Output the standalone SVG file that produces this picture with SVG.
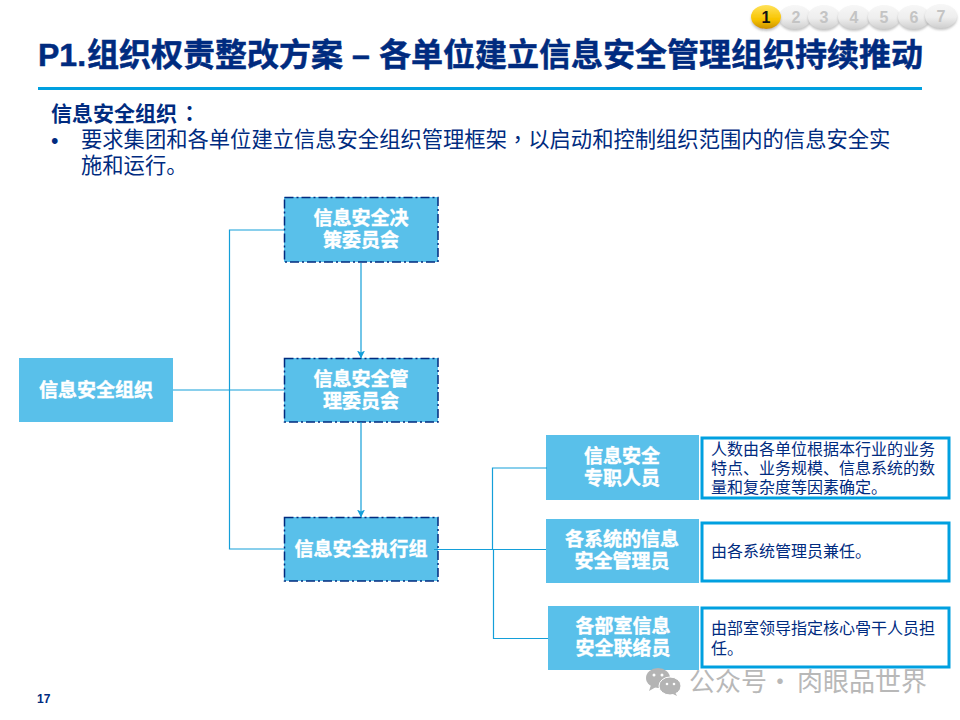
<svg xmlns="http://www.w3.org/2000/svg" width="960" height="720" viewBox="0 0 960 720">
<style>
text{font-family:"Liberation Sans","Noto Sans CJK SC",sans-serif}
.cjk{font-family:"Noto Sans CJK SC","Liberation Sans",sans-serif}
.tc{font-family:"Noto Sans CJK TC",sans-serif}
.title{font-size:32px;font-weight:700;fill:#002b7f;stroke:#002b7f;stroke-width:.5}
.body{font-size:21.300px;fill:#002b7f}
.head{font-size:19px;font-weight:700;fill:#fff;stroke:#fff;stroke-width:.4;text-anchor:middle;font-family:"Noto Sans CJK SC",sans-serif}
.note{font-size:16px;fill:#002b7f;font-family:"Noto Sans CJK SC",sans-serif}
.solid{fill:#59c0ea}
.dash{fill:#59c0ea}
.dashline{fill:none;stroke:#002b7f;stroke-width:1.5;stroke-dasharray:9 3 2 3}
.notebox{fill:#fff;stroke:#00a0e0;stroke-width:3}
.wire{fill:none;stroke:#149fd9;stroke-width:1.2}
.pill{fill:url(#grey);filter:url(#shadow)}
.pilln{font-size:16px;font-weight:700;fill:#c4c4c4;text-anchor:middle}
.mark{font-size:26px;fill:#b8b8b8;font-family:"Noto Sans CJK SC",sans-serif}
</style>
<defs>
<marker id="arrow" markerWidth="9" markerHeight="8" refX="7.5" refY="4" orient="auto" markerUnits="userSpaceOnUse">
<path d="M0 0L8 4L0 8L2 4Z" fill="#149fd9"/>
</marker>
<linearGradient id="grey" x1="0" y1="0" x2="0" y2="1"><stop offset="0" stop-color="#f7f7f7"/><stop offset=".55" stop-color="#eeeeee"/><stop offset="1" stop-color="#cfcfcf"/></linearGradient>
<linearGradient id="gold" x1="0" y1="0" x2="0" y2="1"><stop offset="0" stop-color="#ffe25a"/><stop offset=".6" stop-color="#f8c400"/><stop offset="1" stop-color="#c99000"/></linearGradient>
<filter id="shadow" x="-20%" y="-20%" width="140%" height="150%"><feDropShadow dx="0" dy="2" stdDeviation="1.2" flood-color="#888" flood-opacity=".5"/></filter>
</defs>

<g id="page-tabs">
<ellipse cx="795" cy="17" rx="16" ry="12" class="pill"/>
<ellipse cx="824" cy="17" rx="16" ry="12" class="pill"/>
<ellipse cx="854" cy="17" rx="16" ry="12" class="pill"/>
<ellipse cx="884" cy="17" rx="16" ry="12" class="pill"/>
<ellipse cx="914" cy="17" rx="16" ry="12" class="pill"/>
<ellipse cx="941" cy="16" rx="16" ry="12" class="pill"/>
<ellipse cx="766" cy="17" rx="15" ry="12" fill="url(#gold)" filter="url(#shadow)"/>
<text x="766" y="23" font-size="16" font-weight="700" fill="#111" text-anchor="middle">1</text>
<text x="796" y="23" class="pilln">2</text>
<text x="824" y="23" class="pilln">3</text>
<text x="854" y="23" class="pilln">4</text>
<text x="884" y="23" class="pilln">5</text>
<text x="914" y="23" class="pilln">6</text>
<text x="941" y="22" class="pilln">7</text>
</g>

<g id="header">
<text x="38" y="66" class="title">P1.</text>
<text x="87" y="66" class="title cjk">组织权责整改方案</text>
<text x="352" y="66" class="title">–</text>
<text x="379" y="66" class="title cjk">各单位建立信息安全管理组织持续推动</text>
<rect x="38" y="87" width="884" height="3" fill="#00a0e0"/>
<text x="51" y="121" font-size="21" font-weight="700" fill="#002b7f" class="cjk">信息安全组织<tspan class="tc" dx="2">：</tspan></text>
<text x="51" y="148" class="body">•</text>
<text x="81" y="147" class="body cjk">要求集团和各单位建立信息安全组织管理框架<tspan class="tc">，</tspan>以启动和控制组织范围内的信息安全实</text>
<text x="81" y="173" class="body cjk">施和运行。</text>
</g>

<g id="node-root">
<rect class="solid" x="19" y="358" width="154" height="64"/>
<text class="head" x="96" y="397">信息安全组织</text>
</g>
<g id="node-decision">
<rect class="dash" x="284" y="197" width="154" height="65"/>
<rect class="dashline" x="284.500" y="197.500" width="153.500" height="64.500"/>
<text class="head" x="361" y="225">信息安全决</text>
<text class="head" x="361" y="247">策委员会</text>
</g>
<g id="node-management">
<rect class="dash" x="284" y="358" width="154" height="64"/>
<rect class="dashline" x="284.500" y="358.500" width="153.500" height="63.500"/>
<text class="head" x="361" y="386">信息安全管</text>
<text class="head" x="361" y="408">理委员会</text>
</g>
<g id="node-exec">
<rect class="dash" x="284" y="517" width="154" height="64"/>
<rect class="dashline" x="284.500" y="517.500" width="153.500" height="63.500"/>
<text class="head" x="361" y="556">信息安全执行组</text>
</g>
<g id="node-staff">
<rect class="solid" x="546" y="435" width="153" height="65"/>
<text class="head" x="622" y="463">信息安全</text>
<text class="head" x="622" y="485">专职人员</text>
</g>
<g id="node-sysadmin">
<rect class="solid" x="546" y="519" width="153" height="64"/>
<text class="head" x="622" y="546">各系统的信息</text>
<text class="head" x="622" y="568">安全管理员</text>
</g>
<g id="node-liaison">
<rect class="solid" x="548" y="606" width="151" height="64"/>
<text class="head" x="623" y="633">各部室信息</text>
<text class="head" x="623" y="655">安全联络员</text>
</g>
<g id="note-staff">
<rect class="notebox" x="702" y="438" width="247" height="60"/>
<text class="note" x="711" y="455">人数由各单位根据本行业的业务</text>
<text class="note" x="711" y="474">特点、业务规模、信息系统的数</text>
<text class="note" x="711" y="493">量和复杂度等因素确定。</text>
</g>
<g id="note-sysadmin">
<rect class="notebox" x="702" y="523" width="247" height="58"/>
<text class="note" x="711" y="557">由各系统管理员兼任。</text>
</g>
<g id="note-liaison">
<rect class="notebox" x="702" y="608" width="247" height="59"/>
<text class="note" x="711" y="634">由部室领导指定核心骨干人员担</text>
<text class="note" x="711" y="654">任。</text>
</g>

<g id="connectors">
<path class="wire" d="M284 230H229.500V549H284"/>
<path class="wire" d="M173 390H284"/>
<path class="wire" d="M361 263V358" marker-end="url(#arrow)"/>
<path class="wire" d="M361 422V517" marker-end="url(#arrow)"/>
<path class="wire" d="M434 549.500H546"/>
<path class="wire" d="M547 468H492.500V549.500"/>
<path class="wire" d="M493.500 549.500V638.500H548"/>
</g>

<g id="footer">
<text x="37" y="703" font-size="12" font-weight="700" fill="#002b7f">17</text>
<ellipse cx="658" cy="678" rx="12" ry="10" fill="#b4b4b4"/>
<path d="M651 685l-2 6 7-4Z" fill="#b4b4b4"/>
<ellipse cx="670" cy="686" rx="11" ry="9" fill="#b4b4b4" stroke="#fff" stroke-width="1"/>
<path d="M675 692l2 4-6-3Z" fill="#b4b4b4"/>
<circle cx="654" cy="675" r="1.500" fill="#fff"/><circle cx="662" cy="675" r="1.500" fill="#fff"/>
<circle cx="667" cy="684" r="1.300" fill="#fff"/><circle cx="674" cy="684" r="1.300" fill="#fff"/>
<text x="689" y="691" class="mark">公众号</text>
<text x="767" y="691" class="mark">·</text>
<text x="797" y="691" class="mark">肉眼品世界</text>
</g>
</svg>
